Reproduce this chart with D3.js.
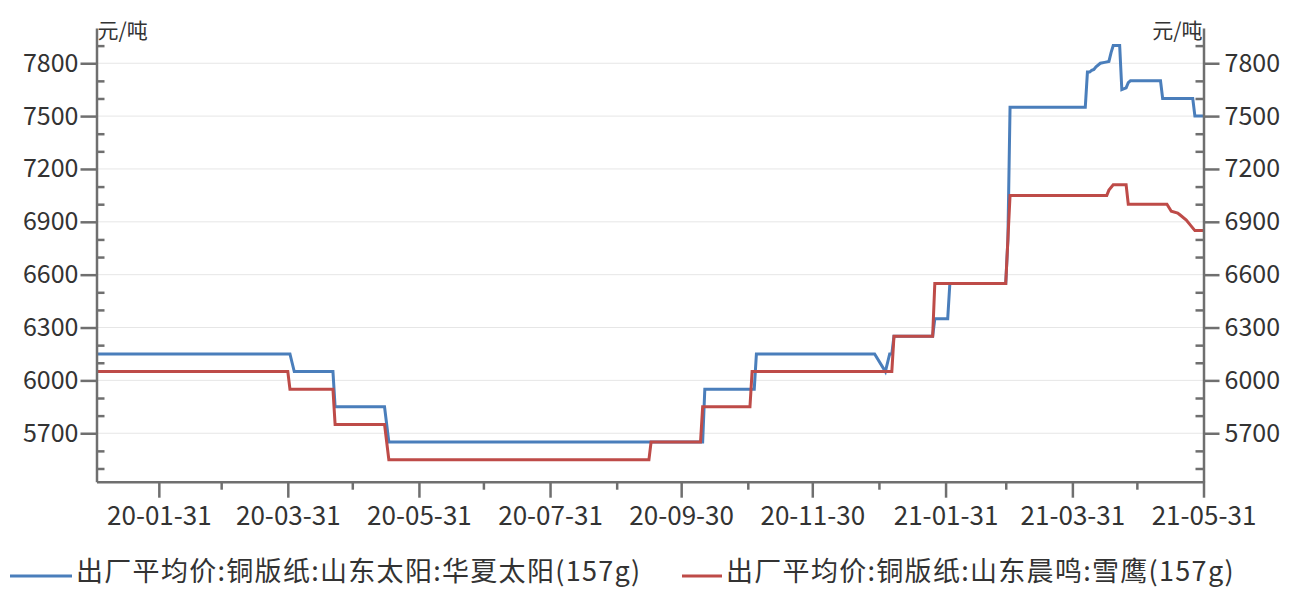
<!DOCTYPE html>
<html>
<head>
<meta charset="utf-8">
<script src="https://cdn.jsdelivr.net/npm/d3@7"></script>
<style>
  html, body { margin: 0; padding: 0; background: #fff; }
  svg { display: block; }
  text { font-family: "Noto Sans CJK SC", "Noto Sans", sans-serif; fill: #333; }
</style>
</head>
<body>
<svg id="chart" width="1290" height="590"></svg>
<script>
// ---------------- data ----------------
const seriesNames = ["出厂平均价:铜版纸:山东太阳:华夏太阳(157g)", "出厂平均价:铜版纸:山东晨鸣:雪鹰(157g)"];
const unitLabel = "元/吨";

const huaxiaDates = ["2020-01-02","2020-04-01","2020-04-02","2020-04-03","2020-04-21","2020-04-22","2020-05-15","2020-05-16","2020-05-17",
  "2020-10-10","2020-10-11","2020-11-03","2020-11-04","2020-12-29","2021-01-03","2021-01-05","2021-01-06","2021-01-07",
  "2021-01-25","2021-01-26","2021-02-01","2021-02-02","2021-02-28","2021-03-01","2021-03-02","2021-04-06","2021-04-07",
  "2021-04-08","2021-04-09","2021-04-10","2021-04-11","2021-04-13","2021-04-15","2021-04-17","2021-04-18","2021-04-19",
  "2021-04-22","2021-04-23","2021-04-25","2021-04-26","2021-04-27","2021-05-11","2021-05-12","2021-05-26","2021-05-27","2021-05-31"];
const huaxiaValues = [6150,6150,6100,6050,6050,5850,5850,5750,5650,
  5650,5950,5950,6150,6150,6050,6150,6150,6250,
  6250,6350,6350,6550,6550,6800,7550,7550,7750,
  7750,7760,7765,7780,7800,7805,7810,7860,7900,
  7900,7650,7660,7690,7700,7700,7600,7600,7500,7500];

const xueyingDates = ["2020-01-02","2020-03-31","2020-04-01","2020-04-21","2020-04-22","2020-05-15","2020-05-16","2020-05-17",
  "2020-09-15","2020-09-16","2020-10-09","2020-10-10","2020-11-01","2020-11-02","2021-01-06","2021-01-07",
  "2021-01-25","2021-01-26","2021-02-28","2021-03-01","2021-03-02","2021-04-16","2021-04-17","2021-04-19",
  "2021-04-25","2021-04-26","2021-05-14","2021-05-16","2021-05-19","2021-05-20","2021-05-23","2021-05-25","2021-05-27","2021-05-31"];
const xueyingValues = [6050,6050,5950,5950,5750,5750,5650,5550,
  5550,5650,5650,5850,5850,6050,6050,6250,
  6250,6550,6550,6800,7050,7050,7080,7110,
  7110,7000,7000,6960,6950,6940,6910,6880,6850,6850];

const yMajorTicks = [5700,6000,6300,6600,6900,7200,7500,7800];
const yMinorTicks = [5500,5600,5800,5900,6100,6200,6400,6500,6700,6800,7000,7100,7300,7400,7600,7700,7900];
const xMajorTicks = ["2020-01-31","2020-03-31","2020-05-31","2020-07-31","2020-09-30","2020-11-30","2021-01-31","2021-03-31","2021-05-31"];
const xMinorTicks = ["2020-02-29","2020-04-30","2020-06-30","2020-08-31","2020-10-31","2020-12-31","2021-02-28","2021-04-30"];
const xDomain = ["2020-01-02","2021-05-31"];
const yDomain = [5425, 8000];

const colors = ["#4a7ebb", "#be4b48"];

// ---------------- chart ----------------
const parse = d3.utcParse("%Y-%m-%d");
const fmt = d3.utcFormat("%y-%m-%d");
const L = 96.5, R = 1203.5, T = 28, B = 481.7;

const svg = d3.select("#chart");
const x = d3.scaleUtc().domain(xDomain.map(parse)).range([L, R]);
const y = d3.scaleLinear().domain(yDomain).range([B, T]);

const axisColor = "#6f6f6f";

// gridlines
svg.append("g").selectAll("line").data(yMajorTicks).join("line")
  .attr("x1", L).attr("x2", R)
  .attr("y1", d => y(d)).attr("y2", d => y(d))
  .attr("stroke", "#e6e6e6").attr("stroke-width", 1);

// series
const line = d3.line().x(d => x(d[0])).y(d => y(d[1])).curve(d3.curveLinear);
const seriesData = [
  huaxiaDates.map((d, i) => [parse(d), huaxiaValues[i]]),
  xueyingDates.map((d, i) => [parse(d), xueyingValues[i]])
];
seriesData.forEach((s, i) => {
  svg.append("path").datum(s)
    .attr("d", line)
    .attr("fill", "none")
    .attr("stroke", colors[i])
    .attr("stroke-width", 3)
    .attr("stroke-linejoin", "miter");
});

function styleAxis(g, size) {
  g.select(".domain").attr("stroke", axisColor).attr("stroke-width", 2.5);
  g.selectAll(".tick line").attr("stroke", axisColor).attr("stroke-width", 2.5);
  g.selectAll(".tick text").attr("fill", "#333").style("font-size", size + "px")
    .style("font-family", '"Noto Sans CJK SC", "Noto Sans", sans-serif');
}

// left axis: minor (inward) then major (outward)
svg.append("g").attr("transform", `translate(${L},0)`)
  .call(d3.axisRight(y).tickValues(yMinorTicks).tickSize(8).tickFormat("").tickSizeOuter(0))
  .call(g => { g.select(".domain").remove(); g.selectAll(".tick line").attr("stroke", axisColor).attr("stroke-width", 2.5); });
svg.append("g").attr("transform", `translate(${L},0)`)
  .call(d3.axisLeft(y).tickValues(yMajorTicks).tickSize(16).tickSizeOuter(0).tickPadding(2).tickFormat(d3.format("d")))
  .call(g => styleAxis(g, 25));

// right axis
svg.append("g").attr("transform", `translate(${R},0)`)
  .call(d3.axisLeft(y).tickValues(yMinorTicks).tickSize(8).tickFormat("").tickSizeOuter(0))
  .call(g => { g.select(".domain").remove(); g.selectAll(".tick line").attr("stroke", axisColor).attr("stroke-width", 2.5); });
svg.append("g").attr("transform", `translate(${R},0)`)
  .call(d3.axisRight(y).tickValues(yMajorTicks).tickSize(16).tickSizeOuter(0).tickPadding(5).tickFormat(d3.format("d")))
  .call(g => styleAxis(g, 25));

// bottom axis
svg.append("g").attr("transform", `translate(0,${B})`)
  .call(d3.axisBottom(x).tickValues(xMinorTicks.map(parse)).tickSize(8).tickFormat("").tickSizeOuter(0))
  .call(g => { g.select(".domain").remove(); g.selectAll(".tick line").attr("stroke", axisColor).attr("stroke-width", 2.5); });
svg.append("g").attr("transform", `translate(0,${B})`)
  .call(d3.axisBottom(x).tickValues(xMajorTicks.map(parse)).tickSize(16).tickSizeOuter(0).tickPadding(9).tickFormat(fmt))
  .call(g => styleAxis(g, 26));

// unit labels
svg.append("text").attr("x", L + 1).attr("y", 38).style("font-size", "21px").text(unitLabel);
svg.append("text").attr("x", R - 1).attr("y", 38).attr("text-anchor", "end").style("font-size", "21px").text(unitLabel);

// legend
const legendItems = [
  { x1: 10, x2: 72, tx: 76 },
  { x1: 682, x2: 722, tx: 726 }
];
legendItems.forEach((it, i) => {
  svg.append("line").attr("x1", it.x1).attr("x2", it.x2).attr("y1", 576).attr("y2", 576)
    .attr("stroke", colors[i]).attr("stroke-width", 3);
  svg.append("text").attr("x", it.tx).attr("y", 581).style("font-size", "27px")
    .style("letter-spacing", "1.3px").text(seriesNames[i]);
});
</script>
</body>
</html>
